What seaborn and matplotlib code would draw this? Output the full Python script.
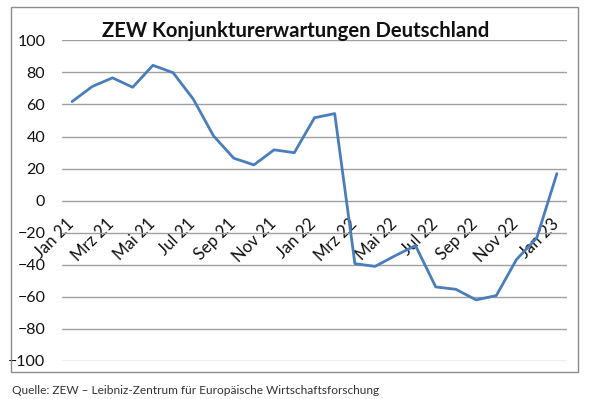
import numpy as np
import pandas as pd
import matplotlib
matplotlib.use('Agg')
import matplotlib.pyplot as plt
import matplotlib.transforms as mtransforms
import seaborn as sns
from matplotlib.patches import Rectangle

# ZEW Konjunkturerwartungen, monatlich Jan 21 - Jan 23
months = ['Jan 21', 'Feb 21', 'Mrz 21', 'Apr 21', 'Mai 21', 'Jun 21', 'Jul 21', 'Aug 21',
          'Sep 21', 'Okt 21', 'Nov 21', 'Dez 21', 'Jan 22', 'Feb 22', 'Mrz 22', 'Apr 22',
          'Mai 22', 'Jun 22', 'Jul 22', 'Aug 22', 'Sep 22', 'Okt 22', 'Nov 22', 'Dez 22', 'Jan 23']
values = [61.8, 71.2, 76.6, 70.7, 84.4, 79.8, 63.3, 40.4,
          26.5, 22.3, 31.7, 29.9, 51.7, 54.3, -39.3, -41.0,
          -34.3, -28.0, -53.8, -55.3, -61.9, -59.2, -36.7, -23.3, 16.9]
y_ticks = list(range(-100, 101, 20))

title = 'ZEW Konjunkturerwartungen Deutschland'
source = 'Quelle: ZEW – Leibniz-Zentrum für Europäische Wirtschaftsforschung'


def main():
    sns.set_style('white')
    plt.rcParams['font.family'] = ['Lato', 'DejaVu Sans']

    df = pd.DataFrame({'monat': months, 'wert': values})
    df['pos'] = np.arange(len(df))

    W, H = 589, 399
    fig = plt.figure(figsize=(W / 100, H / 100), dpi=100)
    ax = fig.add_axes([62 / W, 1 - 361 / H, (567 - 62) / W, (361 - 40.3) / H])

    sns.lineplot(data=df, x='pos', y='wert', color='#4A7EBB', linewidth=2.0, ax=ax)

    ax.set_xlim(-0.5, len(df) - 0.5)
    ax.set_ylim(-100, 100)
    ax.set_yticks(y_ticks)
    ax.grid(axis='y', color='#a0a0a0', linewidth=1.0)
    ax.grid(axis='x', visible=False)
    ax.set_axisbelow(True)
    for s in ['top', 'right', 'left']:
        ax.spines[s].set_visible(False)
    ax.spines['bottom'].set_position(('data', 0))
    ax.spines['bottom'].set_visible(False)

    ax.set_xticks(df['pos'][::2])
    ax.set_xticklabels(df['monat'][::2], rotation=45, ha='right')
    ax.tick_params(axis='x', length=0, pad=11, labelsize=12, labelcolor='#111111')
    ax.tick_params(axis='y', length=0, pad=12, labelsize=11.5, labelcolor='#111111')
    ax.set_xlabel('')
    ax.set_ylabel('')

    # Beschriftungen leicht nach rechts schieben wie im Original
    shift = mtransforms.ScaledTranslation(5 / 100, 0, fig.dpi_scale_trans)
    for lbl in ax.get_xticklabels():
        lbl.set_transform(lbl.get_transform() + shift)

    # Rahmen um den Diagrammbereich
    fig.patches.append(Rectangle((11 / W, 1 - 372 / H), (578 - 11) / W, (372 - 7) / H,
                                 transform=fig.transFigure, fill=False,
                                 edgecolor='#8c8c8c', linewidth=1.0))

    fig.text(296 / W, 1 - 36.7 / H, title, ha='center', va='baseline',
             fontsize=14.6, fontweight='bold', color='#111111')
    fig.text(12 / W, 1 - 394 / H, source, ha='left', va='baseline',
             fontsize=8.6, color='#333333')

    fig.savefig('out.png', dpi=100)


if __name__ == "__main__":
    main()
